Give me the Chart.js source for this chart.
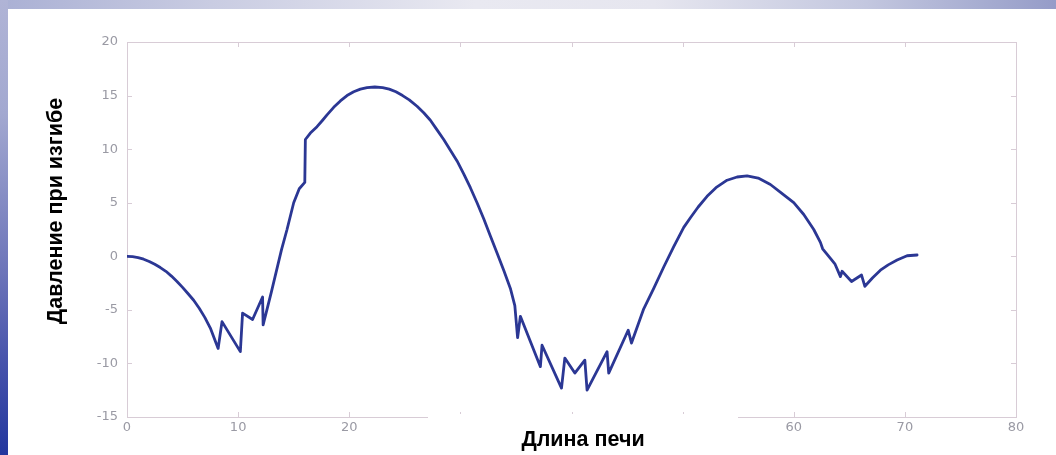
<!DOCTYPE html>
<html>
<head>
<meta charset="utf-8">
<script src="https://cdn.jsdelivr.net/npm/chart.js@4.4.1/dist/chart.umd.min.js"></script>
<style>
  html, body { margin: 0; padding: 0; background: #fff; overflow: hidden; }
  canvas { display: block; }
</style>
</head>
<body>
<canvas id="chart" width="1056" height="455"></canvas>
<script>
// Bending pressure measured along the kiln length
const kilnLength = [
  0, 0.5, 1, 1.5, 2, 2.5, 3, 3.5, 4, 4.5, 5, 5.5, 6, 6.5, 7, 7.5, 8.2,
  8.55, 10.2, 10.4, 11.3, 12.2, 12.25,
  13.0, 13.9, 14.4, 15.0, 15.5, 16.0,
  16.05, 16.5, 17.1, 17.6, 18.0, 18.6, 19.2, 19.8, 20.4, 21.0, 21.6, 22.3, 23.0,
  23.6, 24.2, 24.8, 25.4, 26.1, 26.7, 27.3, 27.9, 28.5, 29.1, 29.7, 30.3, 30.9,
  31.5, 32.1, 32.7, 33.3, 33.9, 34.5, 34.9,
  35.15, 35.4, 37.2, 37.35, 39.1, 39.4, 40.3, 41.2, 41.4, 43.2, 43.35, 45.1, 45.4,
  46.5, 47.4, 48.3, 49.2, 50.1, 50.7, 51.4, 52.2, 53.0, 54.0, 54.9, 55.8, 56.8,
  57.9, 58.9, 60.0, 60.9, 61.8, 62.4, 62.6,
  63.3, 63.7, 64.2, 64.35, 65.2, 66.1, 66.4, 67.1, 67.8, 68.5, 69.3, 70.2, 71.1
];
const bendingPressure = [
  0, -0.03, -0.12, -0.27, -0.48, -0.75, -1.05, -1.4, -1.85, -2.35, -2.9, -3.5, -4.1, -4.85, -5.7, -6.7, -8.6,
  -6.1, -8.9, -5.3, -5.9, -3.8, -6.4,
  -3.3, 0.6, 2.5, 5.0, 6.3, 6.9,
  10.9, 11.5, 12.1, 12.7, 13.2, 13.9, 14.5, 15.0, 15.35, 15.6, 15.75, 15.8, 15.75,
  15.6, 15.35, 15.0, 14.6, 14.0, 13.4, 12.7, 11.8, 10.9, 9.9, 8.9, 7.7, 6.4,
  5.0, 3.5, 1.9, 0.3, -1.3, -3.0, -4.6,
  -7.6, -5.6, -10.3, -8.3, -12.3, -9.5, -10.9, -9.7, -12.5, -8.9, -10.9, -6.9, -8.1,
  -4.9, -3.0, -1.0, 0.9, 2.7, 3.6, 4.6, 5.6, 6.4, 7.1, 7.4, 7.5, 7.3,
  6.7, 5.9, 5.0, 3.9, 2.5, 1.3, 0.7,
  -0.2, -0.7, -1.9, -1.4, -2.35, -1.75, -2.8, -2.0, -1.3, -0.8, -0.35, 0.05, 0.12
];

// Axis ranges and labelled ticks
const xRange = [0, 80];
const yRange = [-15, 20];
const xLabelledTicks = [0, 10, 20, 60, 70, 80]; // 30..50 sit under the title panel
const xTitle = 'Длина печи';
const yTitle = 'Давление при изгибе';

const axisColor = '#d8ccd6';
const tickLabelColor = '#9a9aa4';
const lineColor = '#2b3794';

// Slide backdrop: vertical bar on the left, thin band along the top
const backdrop = {
  id: 'backdrop',
  beforeDraw(chart) {
    const { ctx, width, height } = chart;
    ctx.save();
    ctx.fillStyle = '#ffffff';
    ctx.fillRect(0, 0, width, height);

    const top = ctx.createLinearGradient(0, 0, width, 0);
    top.addColorStop(0, '#aab0d4');
    top.addColorStop(0.2, '#c9cce2');
    top.addColorStop(0.45, '#e9e9f1');
    top.addColorStop(0.62, '#e6e6ef');
    top.addColorStop(0.82, '#c3c7df');
    top.addColorStop(1, '#959cc8');
    ctx.fillStyle = top;
    ctx.fillRect(0, 0, width, 9);

    const left = ctx.createLinearGradient(0, 0, 0, height);
    left.addColorStop(0, '#b0b4d6');
    left.addColorStop(0.25, '#a2a8d0');
    left.addColorStop(0.6, '#6c74b9');
    left.addColorStop(0.8, '#4652ab');
    left.addColorStop(1, '#23379e');
    ctx.fillStyle = left;
    ctx.fillRect(0, 0, 8, height);
    ctx.restore();
  }
};

// Boxed axes with inward tick marks on all four sides
const axisBox = {
  id: 'axisBox',
  beforeDatasetsDraw(chart) {
    const { ctx, chartArea: a, scales: { x, y } } = chart;
    const len = 5;
    ctx.save();
    ctx.strokeStyle = axisColor;
    ctx.lineWidth = 1;
    ctx.strokeRect(Math.round(a.left) + 0.5, Math.round(a.top) + 0.5,
                   Math.round(a.right - a.left), Math.round(a.bottom - a.top));
    ctx.beginPath();
    x.ticks.forEach(t => {
      const px = Math.round(x.getPixelForValue(t.value)) + 0.5;
      ctx.moveTo(px, a.bottom); ctx.lineTo(px, a.bottom - len);
      ctx.moveTo(px, a.top); ctx.lineTo(px, a.top + len);
    });
    y.ticks.forEach(t => {
      const py = Math.round(y.getPixelForValue(t.value)) + 0.5;
      ctx.moveTo(a.left, py); ctx.lineTo(a.left + len, py);
      ctx.moveTo(a.right, py); ctx.lineTo(a.right - len, py);
    });
    ctx.stroke();
    ctx.restore();
  }
};

// Axis titles; the x title sits on a white panel over the axis
const axisTitles = {
  id: 'axisTitles',
  afterDraw(chart) {
    const { ctx } = chart;
    ctx.save();
    ctx.fillStyle = '#ffffff';
    ctx.fillRect(428, 414, 310, 41);

    ctx.fillStyle = '#000000';
    ctx.font = 'bold 21.5px "Liberation Sans", Arial, sans-serif';
    ctx.textAlign = 'center';
    ctx.textBaseline = 'alphabetic';
    ctx.fillText(xTitle, 583, 446);

    ctx.translate(62, 211);
    ctx.rotate(-Math.PI / 2);
    ctx.fillText(yTitle, 0, 0);
    ctx.restore();
  }
};

const points = kilnLength.map((x, i) => ({ x, y: bendingPressure[i] }));

new Chart(document.getElementById('chart'), {
  type: 'line',
  data: {
    datasets: [{
      data: points,
      borderColor: lineColor,
      borderWidth: 2.8,
      pointRadius: 0,
      tension: 0,
      fill: false,
      borderJoinStyle: 'round',
      borderCapStyle: 'round'
    }]
  },
  options: {
    responsive: false,
    animation: false,
    devicePixelRatio: 1,
    layout: { padding: { left: 0, right: 40, top: 42, bottom: 0 } },
    plugins: { legend: { display: false }, tooltip: { enabled: false } },
    scales: {
      x: {
        type: 'linear',
        min: xRange[0],
        max: xRange[1],
        afterFit: s => { s.height = 38; },
        grid: { display: false, drawTicks: false },
        border: { display: false },
        ticks: {
          stepSize: 10,
          padding: 3,
          color: tickLabelColor,
          font: { family: '"DejaVu Sans", sans-serif', size: 13 },
          maxRotation: 0,
          callback: v => xLabelledTicks.includes(v) ? String(v) : ''
        }
      },
      y: {
        type: 'linear',
        min: yRange[0],
        max: yRange[1],
        afterFit: s => { s.width = 127; },
        grid: { display: false, drawTicks: false },
        border: { display: false },
        ticks: {
          stepSize: 5,
          padding: 9,
          color: tickLabelColor,
          font: { family: '"DejaVu Sans", sans-serif', size: 13 }
        }
      }
    }
  },
  plugins: [backdrop, axisBox, axisTitles]
});
</script>
</body>
</html>
